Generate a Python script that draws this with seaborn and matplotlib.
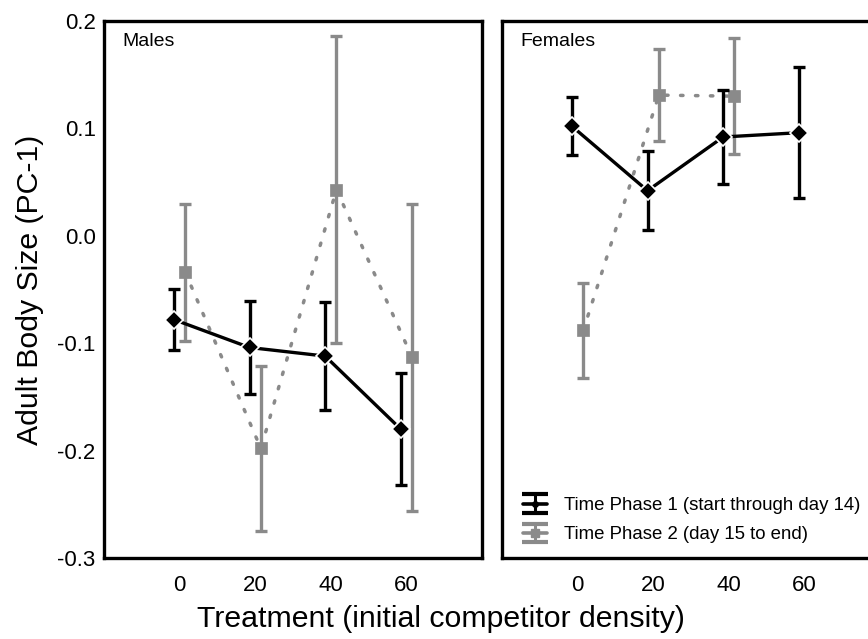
import numpy as np
import pandas as pd
import matplotlib
matplotlib.use("Agg")
import matplotlib.pyplot as plt
import seaborn as sns

# ---- data ----
treatment = [0, 20, 40, 60]
male_p1_mean = [-0.078, -0.104, -0.112, -0.180]
male_p1_err = [0.028, 0.043, 0.050, 0.052]
male_p2_mean = [-0.034, -0.198, 0.043, -0.113]
male_p2_err = [0.064, 0.077, 0.143, 0.143]
female_p1_mean = [0.102, 0.042, 0.092, 0.096]
female_p1_err = [0.027, 0.037, 0.044, 0.061]
female_p2_treatment = [0, 20, 40]
female_p2_mean = [-0.088, 0.131, 0.130]
female_p2_err = [0.044, 0.043, 0.054]
phase_labels = ["Time Phase 1 (start through day 14)", "Time Phase 2 (day 15 to end)"]
panel_labels = ["Males", "Females"]
x_ticks = [0, 20, 40, 60]
y_ticks = [-0.3, -0.2, -0.1, 0.0, 0.1, 0.2]

rows = []
for sex, p, xs, ms, es in [
    ("Males", 1, treatment, male_p1_mean, male_p1_err),
    ("Males", 2, treatment, male_p2_mean, male_p2_err),
    ("Females", 1, treatment, female_p1_mean, female_p1_err),
    ("Females", 2, female_p2_treatment, female_p2_mean, female_p2_err),
]:
    for x, m, e in zip(xs, ms, es):
        rows.append(dict(sex=sex, phase=p, treatment=x, mean=m, err=e))
df = pd.DataFrame(rows)

sns.set_style("white")
plt.rcParams["font.family"] = ["Liberation Sans", "DejaVu Sans"]
plt.rcParams["axes.unicode_minus"] = False
plt.rcParams["text.color"] = "black"

BLACK = "#000000"
GREY = "#8a8a8a"
styles = {
    1: dict(color=BLACK, ls="-", lw=2.4, marker="D", ms=9.0, offset=-1.5,
            elw=2.4, cap=4.2, z=4),
    2: dict(color=GREY, ls=(0, (0.7, 3.6)), lw=2.5, marker="s", ms=8.7, offset=1.5,
            elw=2.4, cap=4.0, z=3),
}

fig = plt.figure(figsize=(8.68, 6.39), dpi=100)
W, H = 868, 639
def px_axes(x0, x1, ytop, ybot):
    return fig.add_axes([x0 / W, 1 - ybot / H, (x1 - x0) / W, (ybot - ytop) / H])

ax_m = px_axes(104, 482, 21, 558)
ax_f = px_axes(502, 880, 21, 558)

for ax, sex in [(ax_m, panel_labels[0]), (ax_f, panel_labels[1])]:
    for p in [2, 1]:
        st = styles[p]
        sub = df[(df.sex == sex) & (df.phase == p)].copy()
        sub["xpos"] = sub["treatment"] + st["offset"]
        ax.errorbar(sub["xpos"], sub["mean"], yerr=sub["err"], fmt="none",
                    ecolor=st["color"], elinewidth=st["elw"], capsize=st["cap"],
                    capthick=st["elw"], zorder=st["z"])
        sns.lineplot(data=sub, x="xpos", y="mean", ax=ax, color=st["color"],
                     linestyle=st["ls"], linewidth=st["lw"], marker=st["marker"],
                     markersize=st["ms"], markerfacecolor=st["color"],
                     markeredgecolor="white" if p == 1 else st["color"],
                     markeredgewidth=1.2 if p == 1 else 0.5,
                     dash_capstyle="round",
                     estimator=None, errorbar=None, zorder=st["z"] + 0.5, legend=False)
    ax.set_xlim(-20, 80)
    ax.set_ylim(-0.3, 0.2)
    ax.set_xticks(x_ticks)
    ax.set_yticks(y_ticks)
    ax.set_xlabel("")
    ax.set_ylabel("")
    for s in ax.spines.values():
        s.set_linewidth(2.4)
        s.set_color("black")
    ax.tick_params(direction="in", length=4, width=2.2, labelsize=16, colors="black")
    ax.tick_params(axis="x", pad=12)
    ax.tick_params(axis="y", pad=6)
    ax.text(0.048, 0.953, sex, transform=ax.transAxes, fontsize=14,
            ha="left", va="baseline", color="black")

ax_m.set_yticklabels([f"{v:.1f}" for v in y_ticks])
ax_f.set_yticklabels([])

# legend proxies
legend_handles = []
for p in [1, 2]:
    st = styles[p]
    h = ax_f.errorbar([np.nan], [np.nan], yerr=[np.nan], fmt="-", color=st["color"],
                      lw=2.6, marker="o" if p == 1 else "s", ms=4 if p == 1 else 6,
                      ecolor=st["color"], elinewidth=2.2, capsize=9.7, capthick=3)
    legend_handles.append(h)
leg = ax_f.legend(legend_handles, phase_labels, loc="lower left", frameon=False,
                  fontsize=13.4, handlelength=1.3, handletextpad=0.95, labelspacing=0.65,
                  bbox_to_anchor=(0.02, 0.003), borderaxespad=0.3)
for t in leg.get_texts():
    t.set_color("black")

fig.text(30 / W, 1 - 290 / H, "Adult Body Size (PC-1)", rotation=90, fontsize=21.8,
         ha="center", va="center", color="black")
fig.text(441 / W, 1 - 619 / H, "Treatment (initial competitor density)", fontsize=21.8,
         ha="center", va="center", color="black")

fig.savefig("out.png", dpi=100)
